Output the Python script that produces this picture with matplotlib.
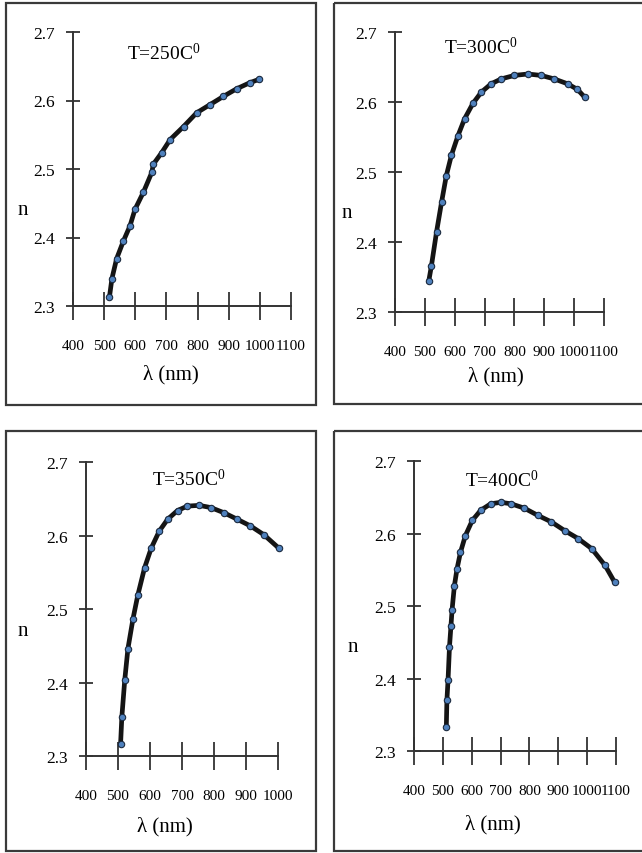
import matplotlib
matplotlib.use("Agg")
import matplotlib.pyplot as plt
from matplotlib.patches import Rectangle

# refractive index n vs wavelength at four annealing temperatures
lam_250 = [517, 525, 540, 562, 583, 599, 626, 653, 658, 685, 712, 755, 797, 840, 883, 925, 968, 998]
n_250 = [2.313, 2.340, 2.369, 2.395, 2.417, 2.441, 2.466, 2.495, 2.507, 2.524, 2.543, 2.562,
         2.582, 2.594, 2.606, 2.617, 2.626, 2.631]

lam_300 = [513, 522, 539, 556, 572, 589, 611, 633, 661, 689, 722, 756, 800, 845, 889, 933,
           978, 1011, 1035]
n_300 = [2.344, 2.366, 2.414, 2.457, 2.495, 2.524, 2.552, 2.576, 2.598, 2.614, 2.626, 2.633,
         2.638, 2.640, 2.638, 2.633, 2.626, 2.618, 2.607]

lam_350 = [508, 512, 521, 531, 547, 562, 583, 604, 629, 655, 686, 717, 754, 790, 831, 873,
           914, 956, 1002]
n_350 = [2.316, 2.353, 2.403, 2.446, 2.487, 2.519, 2.556, 2.583, 2.606, 2.622, 2.634, 2.640,
         2.641, 2.638, 2.631, 2.622, 2.613, 2.601, 2.583]

lam_400 = [512, 514, 518, 523, 528, 532, 540, 549, 561, 578, 602, 631, 666, 701, 736, 782,
           829, 876, 922, 969, 1016, 1062, 1095]
n_400 = [2.333, 2.370, 2.398, 2.444, 2.472, 2.495, 2.528, 2.551, 2.574, 2.597, 2.618, 2.632,
         2.641, 2.643, 2.641, 2.635, 2.625, 2.616, 2.604, 2.593, 2.579, 2.556, 2.533]

titles = ["T=250C$^{0}$", "T=300C$^{0}$", "T=350C$^{0}$", "T=400C$^{0}$"]
x_max = [1100, 1100, 1000, 1100]
y_ticks = [2.3, 2.4, 2.5, 2.6, 2.7]

W, H = 642, 854
plt.rcParams['font.family'] = ['Liberation Serif', 'DejaVu Serif']
plt.rcParams['mathtext.fontset'] = 'custom'
plt.rcParams['mathtext.rm'] = 'Liberation Serif'
plt.rcParams['mathtext.it'] = 'Liberation Serif:italic'

fig = plt.figure(figsize=(W / 100, H / 100), dpi=100)

# background axes in pixel units (y down) for the panel frames
bg = fig.add_axes([0, 0, 1, 1])
bg.set_xlim(0, W)
bg.set_ylim(H, 0)
bg.axis('off')


def fx(x):
    return x / W


def fy(y):
    return 1 - y / H


# layout in pixels: (left, right, top, bottom) of the axes
axes_px = [(73, 291, 33, 307), (395, 604, 33, 313), (86, 278, 463, 757), (414, 616, 462, 752)]
boxes_px = [(6, 316, 4, 406), (334, 648, 4, 405), (6, 316, 432, 852), (334, 648, 432, 852)]
title_px = [(164, 53), (481, 47), (189, 480), (502, 481)]
xlab_px = [(171, 375), (496, 377), (165, 827), (493, 825)]
ylab_px = [(23, 211), (347, 214), (23, 631), (353, 648)]

data = [(lam_250, n_250), (lam_300, n_300), (lam_350, n_350), (lam_400, n_400)]

for i, (lam, n) in enumerate(data):
    x0, x1, y0, y1 = boxes_px[i]
    bg.add_patch(Rectangle((x0, y0), x1 - x0, y1 - y0, fill=False,
                           edgecolor='#3a3a3a', lw=1.6, clip_on=False))

    l, r, t, b = axes_px[i]
    ax = fig.add_axes([fx(l), fy(b), (r - l) / W, (b - t) / H])
    ax.patch.set_alpha(0)
    ax.plot(lam, n, '-', color='#141414', lw=3.4, marker='o', ms=4.6,
            mfc='#4f81bd', mec='#1b2a3f', mew=0.8, clip_on=False)
    ax.set_xlim(400, x_max[i])
    ax.set_ylim(2.3, 2.7)
    ax.set_xticks(range(400, x_max[i] + 1, 100))
    ax.set_yticks(y_ticks)
    ax.set_yticklabels([f"{v:.1f}" for v in y_ticks])
    for s in ['top', 'right']:
        ax.spines[s].set_visible(False)
    for s in ['left', 'bottom']:
        ax.spines[s].set_color('#333333')
        ax.spines[s].set_linewidth(1.4)
    ax.tick_params(axis='x', direction='inout', length=20, width=1.3, color='#333333',
                   pad=14, labelsize=11)
    ax.tick_params(axis='y', direction='inout', length=10, width=1.3, color='#333333',
                   pad=8, labelsize=12.5)

    fig.text(fx(title_px[i][0]), fy(title_px[i][1]), titles[i], ha='center', va='center',
             fontsize=14)
    fig.text(fx(xlab_px[i][0]), fy(xlab_px[i][1]), "λ (nm)", ha='center', va='center',
             fontsize=15)
    fig.text(fx(ylab_px[i][0]), fy(ylab_px[i][1]), "n", ha='center', va='center',
             fontsize=15)

fig.savefig("out.png", dpi=100)
